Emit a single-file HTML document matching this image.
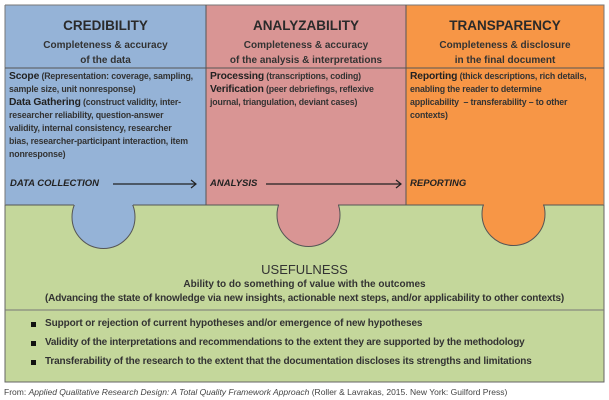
<!DOCTYPE html>
<html><head><meta charset="utf-8"><style>
body{margin:0;width:609px;height:400px;background:#fff;position:relative;overflow:hidden;font-family:"Liberation Sans",sans-serif;color:#222}
.t{position:absolute;white-space:nowrap}
.c{text-align:center}
.h{font-size:13.5px;font-weight:bold;color:#2a2a2a}
.s{font-size:10px;font-weight:bold;color:#333}
.b{font-size:8.8px;color:#333;font-weight:bold;letter-spacing:-0.15px}
.b b{font-size:10.3px;color:#222}
.i{font-size:9.5px;font-weight:bold;font-style:italic;color:#222}
</style></head><body>
<svg width="609" height="400" style="position:absolute;left:0;top:0">
<rect x="5" y="205" width="599" height="177" fill="#c4d79b" stroke="#666" stroke-width="1"/>
<circle cx="103.5" cy="217" r="31.5" fill="#95b3d7" stroke="#555" stroke-width="1"/>
<circle cx="308.5" cy="215" r="31.5" fill="#d99594" stroke="#555" stroke-width="1"/>
<circle cx="513.5" cy="214" r="31.5" fill="#f79646" stroke="#555" stroke-width="1"/>
<rect x="5" y="5" width="201" height="200" fill="#95b3d7"/>
<rect x="206" y="5" width="200" height="200" fill="#d99594"/>
<rect x="406" y="5" width="198" height="200" fill="#f79646"/>
<path d="M5 205H74M133 205H279M338 205H484M543 205H604" stroke="#555" stroke-width="1"/>
<path d="M5 5H604V205M5 5V205" fill="none" stroke="#777" stroke-width="1"/>
<line x1="206" y1="5" x2="206" y2="205" stroke="#555"/>
<line x1="406" y1="5" x2="406" y2="205" stroke="#555"/>
<line x1="5" y1="68" x2="604" y2="68" stroke="#555"/>
<line x1="5" y1="310" x2="604" y2="310" stroke="#777"/>
<g stroke="#222" stroke-width="1.2" fill="none">
<line x1="113" y1="184" x2="196" y2="184"/><path d="M191 180L196 184L191 188"/>
<line x1="266" y1="184" x2="401" y2="184"/><path d="M396 180L401 184L396 188"/>
</g>
<g fill="#111"><rect x="31" y="322" width="5" height="5"/><rect x="31" y="341" width="5" height="5"/><rect x="31" y="360" width="5" height="5"/></g>
</svg>
<div class="t c h" style="left:5px;width:201px;top:18px">CREDIBILITY</div>
<div class="t c s" style="left:5px;width:201px;top:38px;line-height:15px">Completeness &amp; accuracy<br>of the data</div>
<div class="t c h" style="left:206px;width:200px;top:18px">ANALYZABILITY</div>
<div class="t c s" style="left:206px;width:200px;top:38px;line-height:15px">Completeness &amp; accuracy<br>of the analysis &amp; interpretations</div>
<div class="t c h" style="left:406px;width:198px;top:18px">TRANSPARENCY</div>
<div class="t c s" style="left:406px;width:198px;top:38px;line-height:15px">Completeness &amp; disclosure<br>in the final document</div>
<div class="t b" style="left:9px;top:70px;line-height:13px"><b>Scope</b> (Representation: coverage, sampling,<br>sample size, unit nonresponse)<br><b>Data Gathering</b> (construct validity, inter-<br>researcher reliability, question-answer<br>validity, internal consistency, researcher<br>bias, researcher-participant interaction, item<br>nonresponse)</div>
<div class="t b" style="left:210px;top:70px;line-height:13px"><b>Processing</b> (transcriptions, coding)<br><b>Verification</b> (peer debriefings, reflexive<br>journal, triangulation, deviant cases)</div>
<div class="t b" style="left:410px;top:70px;line-height:13px"><b>Reporting</b> (thick descriptions, rich details,<br>enabling the reader to determine<br>applicability &nbsp;– transferability – to other<br>contexts)</div>
<div class="t i" style="left:10px;top:178px">DATA COLLECTION</div>
<div class="t i" style="left:210px;top:178px">ANALYSIS</div>
<div class="t i" style="left:410px;top:178px">REPORTING</div>
<div class="t c" style="left:5px;width:599px;top:262px;font-size:13px;color:#333">USEFULNESS</div>
<div class="t c s" style="left:5px;width:599px;top:279px">Ability to do something of value with the outcomes</div>
<div class="t c s" style="left:5px;width:599px;top:293px;letter-spacing:-0.15px">(Advancing the state of knowledge via new insights, actionable next steps, and/or applicability to other contexts)</div>
<div class="t s" style="left:45px;top:318px;letter-spacing:-0.1px">Support or rejection of current hypotheses and/or emergence of new hypotheses</div>
<div class="t s" style="left:45px;top:337px;letter-spacing:-0.2px">Validity of the interpretations and recommendations to the extent they are supported by the methodology</div>
<div class="t s" style="left:45px;top:356px;letter-spacing:-0.15px">Transferability of the research to the extent that the documentation discloses its strengths and limitations</div>
<div class="t" style="left:4px;top:387px;font-size:8.5px;color:#444">From: <i>Applied Qualitative Research Design: A Total Quality Framework Approach</i> (Roller &amp; Lavrakas, 2015. New York: Guilford Press)</div>
</body></html>
